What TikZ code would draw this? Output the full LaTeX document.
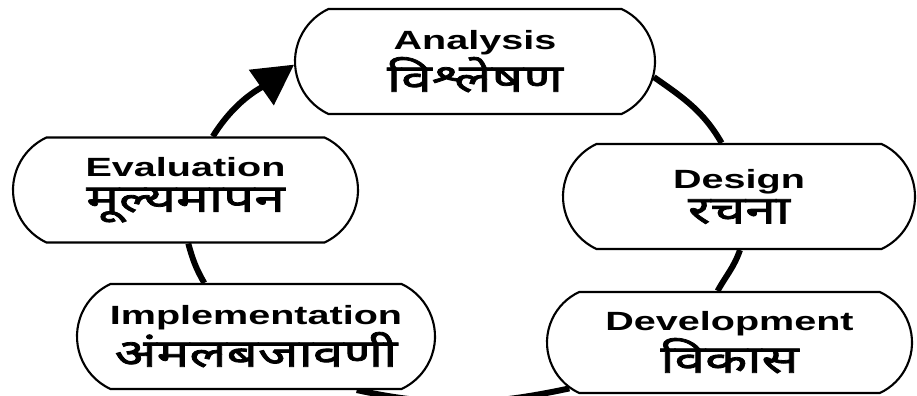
\documentclass[tikz,border=0pt]{standalone}
\usepackage{fontspec}
\setmainfont[FakeStretch=1.5]{Liberation Sans}
\newfontfamily\devfont[Script=Devanagari,FakeStretch=1.42,FakeBold=2]{Noto Sans}
\usetikzlibrary{positioning, arrows.meta, shapes.misc, backgrounds}

\tikzset{
  phase/.style={rounded rectangle, rounded rectangle arc length=130, draw,
    line width=1.2pt, fill=white, align=center, inner sep=0pt,
    minimum height=2.1cm, font=\fontsize{15}{20}\selectfont\bfseries},
  loop/.style={line width=3.4pt},
}
\newcommand{\marathi}[1]{{\devfont\mdseries\fontsize{22}{20}\selectfont #1}}

\begin{document}
\begin{tikzpicture}
  \useasboundingbox (0,0) rectangle (18.34,7.92);

  \node[phase, minimum width=7.2cm] (analysis) at (9.5,6.69) {Analysis\\\marathi{विश्लेषण}};
  \node[phase, minimum width=7.04cm] (design) at (14.78,3.99) {Design\\\marathi{रचना}};
  \node[phase, minimum width=7.3cm, minimum height=2.02cm] (development) at (14.59,1.07) {Development\\\marathi{विकास}};
  \node[phase, minimum width=7.16cm] (implementation) at (5.12,1.19) {Implementation\\\marathi{अंमलबजावणी}};
  \node[phase, minimum width=6.9cm] (evaluation) at (3.71,4.12) {Evaluation\\\marathi{मूल्यमापन}};

  % the cycle
  \begin{scope}[on background layer]
    \draw[loop, -{Triangle[length=0.8cm, width=0.84cm]}] (evaluation.63) to[out=58, in=215] (analysis.181);
    \draw[loop] (analysis.-5) to[out=-35, in=120] (design.108);
    \draw[loop] (design.-89) to[out=-109, in=61] (development.103);
    \draw[loop] (development.196) to[out=-168, in=-12] (implementation.-28);
    \draw[loop] (implementation.134) to[out=120, in=-75] (evaluation.-87);
  \end{scope}
\end{tikzpicture}
\end{document}
